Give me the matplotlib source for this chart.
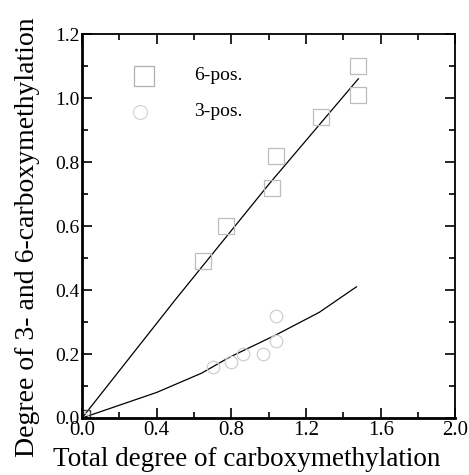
import matplotlib
matplotlib.use("Agg")
import matplotlib.pyplot as plt
from matplotlib.ticker import MultipleLocator, FormatStrFormatter

# 6-position substitution (squares)
x6 = [0.0, 0.65, 0.77, 1.02, 1.04, 1.28, 1.48, 1.48]
y6 = [0.0, 0.49, 0.60, 0.72, 0.82, 0.94, 1.01, 1.10]
# 3-position substitution (circles)
x3 = [0.0, 0.70, 0.80, 0.86, 0.97, 1.04, 1.04]
y3 = [0.0, 0.16, 0.175, 0.20, 0.20, 0.24, 0.32]

# fitted curves
fit6_x = [0.0, 0.50, 1.00, 1.48]
fit6_y = [0.0, 0.37, 0.73, 1.06]
fit3_x = [0.0, 0.40, 0.64, 0.79, 1.04, 1.27, 1.47]
fit3_y = [0.0, 0.08, 0.14, 0.19, 0.26, 0.33, 0.41]

plt.rcParams['font.family'] = ['Liberation Serif', 'DejaVu Serif']

fig = plt.figure(figsize=(4.69, 4.75), dpi=100)
ax = fig.add_axes([0.175, 0.12, 0.796, 0.8084])

ax.plot(fit6_x, fit6_y, color='black', lw=0.9)
ax.plot(fit3_x, fit3_y, color='black', lw=0.9)
ax.plot(x6, y6, ls='none', marker='s', ms=11, mfc='none', mec='#bdbdbd', mew=0.9)
ax.plot(x3, y3, ls='none', marker='o', ms=9, mfc='none', mec='#d0d0d0', mew=0.9)
ax.plot([0.0], [0.0], ls='none', marker='s', ms=11, mfc='none', mec='#444444', mew=1.0)

# legend drawn by hand
ax.plot([0.33], [1.07], marker='s', ms=14, mfc='none', mec='#b0b0b0', mew=0.9)
ax.plot([0.31], [0.957], marker='o', ms=10, mfc='none', mec='#d5d5d5', mew=0.9)
ax.text(0.60, 1.07, '6-pos.', fontsize=14, va='center')
ax.text(0.60, 0.957, '3-pos.', fontsize=14, va='center')

ax.set_xlim(0, 2.0)
ax.set_ylim(0, 1.2)
ax.xaxis.set_major_locator(MultipleLocator(0.4))
ax.xaxis.set_minor_locator(MultipleLocator(0.2))
ax.yaxis.set_major_locator(MultipleLocator(0.2))
ax.yaxis.set_minor_locator(MultipleLocator(0.1))
ax.xaxis.set_major_formatter(FormatStrFormatter('%.1f'))
ax.yaxis.set_major_formatter(FormatStrFormatter('%.1f'))
ax.tick_params(which='both', direction='in', top=True, right=True, width=1.2)
ax.tick_params(which='major', length=7)
ax.tick_params(which='minor', length=4)
ax.tick_params(axis='x', labelsize=15, pad=2)
ax.tick_params(axis='y', labelsize=14, pad=2)
for s in ax.spines.values():
    s.set_linewidth(1.3)
ax.spines['left'].set_linewidth(2)
ax.spines['bottom'].set_linewidth(2)

ax.set_xlabel('Total degree of carboxymethylation', fontsize=19.5)
ax.set_ylabel('Degree of 3- and 6-carboxymethylation', fontsize=20)
ax.xaxis.set_label_coords(0.44, -0.075)
ax.yaxis.set_label_coords(-0.112, 0.471)

fig.savefig('out.png', dpi=100)
